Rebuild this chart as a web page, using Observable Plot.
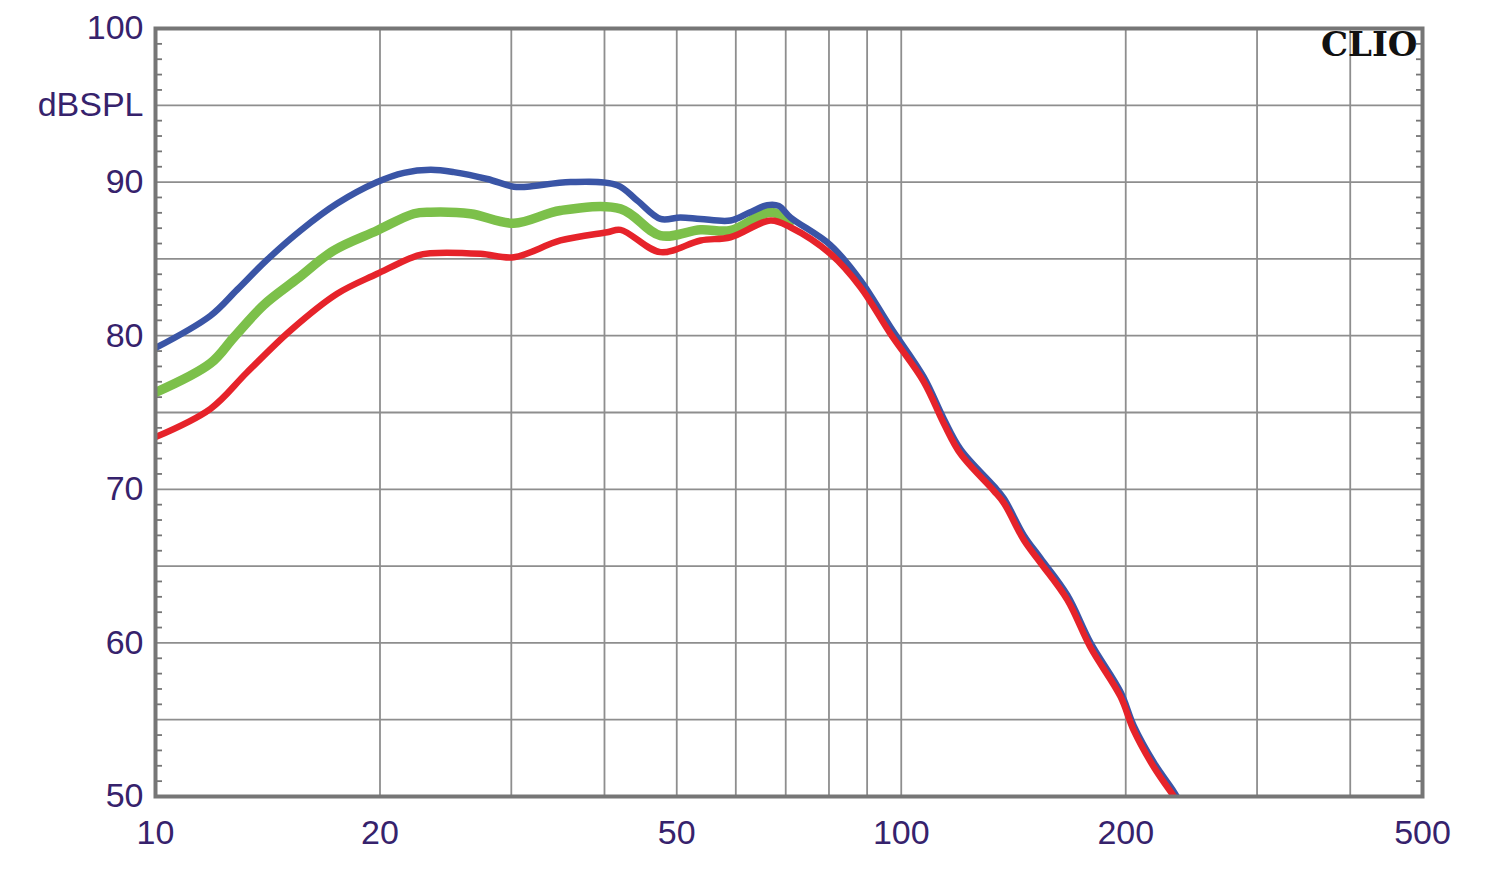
<!DOCTYPE html>
<html>
<head>
<meta charset="utf-8">
<script src="https://cdn.jsdelivr.net/npm/d3@7"></script>
<script src="https://cdn.jsdelivr.net/npm/@observablehq/plot@0.6"></script>
<style>
  html, body { margin: 0; padding: 0; background: #fff; }
  #chart svg { display: block; }
</style>
</head>
<body>
<div id="chart"></div>
<script>
// Frequency (Hz) and level (dB SPL)
const blueFreq = [10, 11.85, 12.87, 14.12, 15.65, 17.52, 19.83, 21.53, 23.38, 25.12, 27.85, 30.23, 31.51, 36.02, 41.61, 44.25, 47.55, 50.58, 53.81, 59.03, 62.5, 66.12, 68.5, 71.03, 80.36, 88.18, 96.75, 107.2, 114, 120.1, 133.1, 137.3, 146, 153.8, 167, 179.4, 196.8, 205, 218.2, 232.1, 236];
const blueDb   = [79.2, 81.3, 83.0, 84.95, 86.85, 88.6, 90.0, 90.6, 90.8, 90.65, 90.2, 89.7, 89.7, 90.0, 89.8, 88.8, 87.6, 87.7, 87.6, 87.5, 88.0, 88.5, 88.45, 87.7, 85.9, 83.6, 80.55, 77.3, 74.6, 72.6, 70.2, 69.4, 67.0, 65.5, 63.1, 60.0, 56.8, 54.6, 52.2, 50.3, 49.7];

const greenFreq = [10, 11.85, 12.74, 13.97, 15.49, 17.34, 19.83, 22.2, 23.38, 26.44, 30.23, 34.92, 42.04, 47.55, 53.81, 59.03, 66.8, 71.03];
const greenDb   = [76.3, 78.2, 79.9, 82.0, 83.7, 85.55, 86.85, 87.94, 88.04, 87.94, 87.32, 88.15, 88.26, 86.52, 86.9, 86.85, 88.04, 87.45];

const redFreq = [10, 11.85, 13.27, 15.17, 17.52, 19.83, 22.43, 23.38, 27.28, 30.23, 34.92, 40.35, 42.04, 47.55, 53.81, 59.03, 66.8, 71.03, 80.36, 88.18, 96.75, 107.2, 114, 120.1, 133.1, 137.3, 146, 153.8, 167, 179.4, 196.8, 205, 218.2, 232.1, 240];
const redDb   = [73.4, 75.24, 77.62, 80.34, 82.73, 84.03, 85.22, 85.37, 85.33, 85.11, 86.2, 86.74, 86.89, 85.44, 86.2, 86.41, 87.5, 87.06, 85.33, 83.16, 80.12, 77.0, 74.3, 72.3, 69.9, 69.1, 66.7, 65.2, 62.8, 59.7, 56.5, 54.3, 51.9, 50.0, 49.0];

// Grid and tick values
const xGrid = [20, 30, 40, 50, 60, 70, 80, 90, 100, 200, 300, 400];
const yGrid = [55, 60, 65, 70, 75, 80, 85, 90, 95];
const xTickLabels = [10, 20, 50, 100, 200, 500];
const yTickLabels = [100, 95, 90, 80, 70, 60, 50];
const yMinor = d3.range(51, 100).filter(v => v % 5 !== 0);
const yAxisTitle = "dBSPL";
const brand = "CLIO";

const toRows = (fs, ds) => fs.map((f, i) => ({f, db: ds[i]}));
const blue = toRows(blueFreq, blueDb);
const green = toRows(greenFreq, greenDb);
const red = toRows(redFreq, redDb);

const labelColor = "#36226c";
const gridColor = "#8e8e8e";
const frameColor = "#767676";

const chart = Plot.plot({
  width: 1500,
  height: 873,
  marginLeft: 155,
  marginRight: 78,
  marginTop: 28,
  marginBottom: 77,
  style: {fontFamily: "'Liberation Sans', Arial, sans-serif", background: "#fff"},
  x: {type: "log", domain: [10, 500], axis: null},
  y: {domain: [50, 100], axis: null},
  marks: [
    Plot.ruleX(xGrid, {stroke: gridColor, strokeWidth: 1.8}),
    Plot.ruleY(yGrid, {stroke: gridColor, strokeWidth: 1.8}),
    // minor inward ticks on left and right edges
    Plot.axisY(yMinor, {anchor: "left", label: null, tickSize: 7, dx: 7, tickFormat: () => "", stroke: frameColor, strokeWidth: 1.8}),
    Plot.axisY(yMinor, {anchor: "right", label: null, tickSize: 7, dx: -7, tickFormat: () => "", stroke: frameColor, strokeWidth: 1.8}),
    Plot.line(green, {x: "f", y: "db", stroke: "#7cc04a", strokeWidth: 9.5, curve: "catmull-rom", clip: true}),
    Plot.line(blue, {x: "f", y: "db", stroke: "#3a55a6", strokeWidth: 6.5, curve: "catmull-rom", clip: true}),
    Plot.line(red, {x: "f", y: "db", stroke: "#e6232a", strokeWidth: 6.5, curve: "catmull-rom", clip: true}),
    Plot.frame({stroke: frameColor, strokeWidth: 4}),
    Plot.axisY(yTickLabels, {anchor: "left", label: null, tickSize: 0, tickPadding: 12, fontSize: 34, fill: labelColor,
      tickFormat: d => d === 95 ? yAxisTitle : String(d)}),
    Plot.axisX(xTickLabels, {anchor: "bottom", label: null, tickSize: 0, tickPadding: 23, fontSize: 34, fill: labelColor,
      tickFormat: d => String(d)}),
    Plot.text([brand], {frameAnchor: "top-right", text: d => d, dx: -5, dy: 3, textAnchor: "end", lineAnchor: "top",
      fontFamily: "'DejaVu Serif', serif", fontWeight: "bold", fontSize: 34, fill: "#111"})
  ]
});
document.getElementById("chart").appendChild(chart);
</script>
</body>
</html>
